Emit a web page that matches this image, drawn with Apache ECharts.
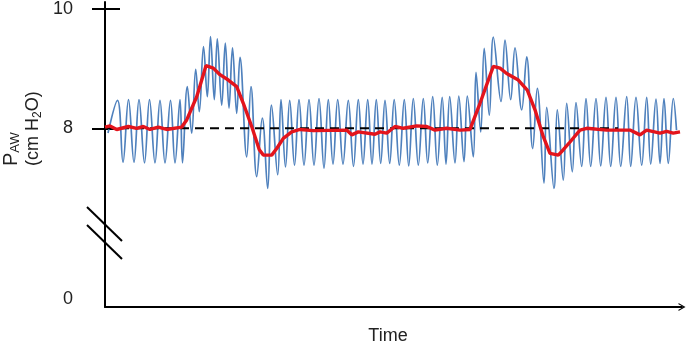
<!DOCTYPE html>
<html>
<head>
<meta charset="utf-8">
<script src="https://cdn.jsdelivr.net/npm/echarts@6/dist/echarts.min.js"></script>
<style>
  html, body { margin: 0; padding: 0; background: #fff; }
  #chart { width: 686px; height: 344px; }
</style>
</head>
<body>
<div id="chart"></div>
<script>
// blue trace: turning points (time, cm H2O)
var bluePeakT = [12.5, 23.5, 34, 44.5, 55, 65.5, 75, 82.3, 90.7, 98.5, 105.5, 112.3, 120.3, 127.5, 135, 146, 157.3, 166.5, 176, 184.7,
  194, 204, 214, 223.3, 232.7, 243.3, 253.3, 262.7, 271.3, 280, 289.2, 299.3, 308.3, 318.3, 327.7, 337.2, 344.7, 353.8, 362.3, 371,
  379.2, 388.3, 400, 410, 421.7, 432.3, 441.7, 452.3, 461.7, 471, 481, 491, 501, 511, 521.7, 531, 541.7, 551, 559, 568.3];
var bluePeakV = [8.47, 8.48, 8.48, 8.48, 8.47, 8.47, 8.48, 8.70, 8.99, 9.37, 9.54, 9.50, 9.43, 9.35, 9.19, 8.70, 8.17, 8.39, 8.48, 8.47,
  8.48, 8.48, 8.50, 8.48, 8.48, 8.47, 8.48, 8.48, 8.48, 8.47, 8.48, 8.48, 8.50, 8.50, 8.53, 8.52, 8.53, 8.54, 8.54, 8.94,
  9.34, 9.53, 9.48, 9.35, 9.20, 8.67, 8.35, 8.31, 8.42, 8.43, 8.50, 8.50, 8.52, 8.52, 8.53, 8.52, 8.52, 8.49, 8.50, 8.50];
var blueTroughT = [18, 29, 39.5, 50, 60, 70, 77.5, 86.7, 94.3, 102.3, 109.3, 116.7, 124, 131.7, 141.7, 151.7, 162.7, 172.7, 180.5, 189.5,
  199, 209, 219, 228, 238, 248.5, 258, 267, 275.7, 284.7, 294.3, 303.7, 313.3, 322.7, 332.3, 341, 350, 359, 368.3, 375.7,
  384.3, 396, 405.7, 416.7, 427.7, 439, 449, 458.3, 467.3, 476.7, 485.7, 495.7, 505.7, 515.7, 525.7, 536.7, 545.7, 555, 563.3];
var blueTroughV = [7.43, 7.43, 7.42, 7.42, 7.42, 7.42, 7.42, 7.92, 8.28, 8.53, 8.48, 8.39, 8.34, 8.25, 7.52, 7.19, 6.99, 7.22, 7.35, 7.38,
  7.38, 7.38, 7.33, 7.40, 7.40, 7.36, 7.40, 7.40, 7.41, 7.41, 7.38, 7.37, 7.38, 7.42, 7.38, 7.40, 7.42, 7.44, 7.52, 7.94,
  8.22, 8.45, 8.48, 8.31, 7.66, 7.08, 6.99, 7.13, 7.27, 7.36, 7.36, 7.37, 7.36, 7.36, 7.36, 7.38, 7.40, 7.41, 7.41];
var blueStart = [3, 7.92];
var blueEnd = [571.5, 7.97];

// red trace: averaged pressure
var redT = [0, 5, 11.7, 23.3, 31.7, 38.3, 45, 53.3, 61.7, 76.7, 81.7, 91.7, 101, 108.3, 115, 123.3, 131.7, 138.3, 146.7, 154.3,
  158.3, 166.7, 171.7, 178.3, 186.7, 195, 208.3, 241.7, 246.7, 253.3, 270, 275, 281.7, 290, 298.3, 311.7, 321.7, 330, 341.7, 355,
  365, 375, 388.3, 395, 401.7, 413.3, 422.3, 430, 438.3, 445, 453.3, 458.3, 465, 475, 481.7, 501.7, 525, 535, 541.7, 555,
  561.7, 568.3, 575];
var redV = [8.02, 8.04, 7.98, 8.03, 8.00, 8.03, 7.98, 8.02, 7.98, 8.02, 8.14, 8.53, 9.05, 9.01, 8.90, 8.81, 8.70, 8.42, 8.03, 7.64,
  7.55, 7.55, 7.66, 7.83, 7.94, 7.98, 7.96, 7.97, 7.89, 7.94, 7.90, 7.94, 7.92, 8.03, 8.00, 8.04, 8.03, 7.97, 8.00, 7.97,
  7.98, 8.42, 9.04, 9.01, 8.92, 8.81, 8.64, 8.31, 7.86, 7.58, 7.55, 7.64, 7.77, 7.97, 8.00, 7.97, 7.97, 7.89, 7.97, 7.92,
  7.95, 7.92, 7.94];

// dashed reference at 8 cm H2O
var baseT = [0, 513];
var baseV = [8, 8];

var yTicks = [8, 10];
var yLabelPos = [5.13, 8, 10];

var blueData = [blueStart];
for (var i = 0; i < bluePeakT.length; i++) {
  blueData.push([bluePeakT[i], bluePeakV[i]]);
  if (i < blueTroughT.length) blueData.push([blueTroughT[i], blueTroughV[i]]);
}
blueData.push(blueEnd);

var redData = redT.map(function (t, i) { return [t, redV[i]]; });
var baseData = baseT.map(function (t, i) { return [t, baseV[i]]; });

var font = 'Liberation Sans, Arial, sans-serif';
var chart = echarts.init(document.getElementById('chart'));

var option = {
  animation: false,
  backgroundColor: '#fff',
  grid: { left: 105, right: 4, top: 2, bottom: 37, containLabel: false, outerBoundsMode: 'none' },
  xAxis: {
    type: 'value', min: 0, max: 577,
    axisLine: {
      show: true,
      symbol: ['none', 'path://M0,9 L5,0 L10,9 L8.4,9 L5,2.6 L1.6,9 Z'],
      symbolSize: [10, 7],
      lineStyle: { color: '#000', width: 2 }
    },
    axisTick: { show: false },
    axisLabel: { show: false },
    splitLine: { show: false },
    name: 'Time',
    nameLocation: 'middle',
    nameGap: 20,
    nameTextStyle: { fontSize: 18, color: '#222', fontFamily: font, padding: [0, 11, 0, 0] }
  },
  yAxis: [{
    type: 'value', min: 5, max: 10.12, position: 'left',
    axisLine: { show: true, lineStyle: { color: '#000', width: 2 } },
    axisTick: { show: true, customValues: yTicks, length: 13, lineStyle: { color: '#000', width: 2 } },
    axisLabel: {
      customValues: yLabelPos,
      margin: 32,
      fontSize: 18,
      color: '#222',
      fontFamily: font,
      formatter: function (v) { return v < 6 ? '0' : String(v); }
    },
    splitLine: { show: false }
  }, {
    type: 'value', min: 5, max: 10.12, position: 'left',
    axisLine: { show: false },
    axisTick: { show: true, inside: true, customValues: yTicks, length: 15, lineStyle: { color: '#000', width: 2 } },
    axisLabel: { show: false },
    splitLine: { show: false }
  }],
  graphic: [
    // axis break marks
    { type: 'line', shape: { x1: 87, y1: 207, x2: 122, y2: 241 }, style: { stroke: '#000', lineWidth: 2 }, z: 10 },
    { type: 'line', shape: { x1: 87, y1: 225, x2: 122, y2: 259 }, style: { stroke: '#000', lineWidth: 2 }, z: 10 },
    {
      type: 'text', x: 0, y: 166, rotation: Math.PI / 2,
      style: {
        text: '{p|P}{s|AW}\n{n|(cm H}{s2|2}{n|O)}',
        fill: '#222',
        align: 'left',
        verticalAlign: 'top',
        rich: {
          p: { fontSize: 20, lineHeight: 22, fontFamily: font, fill: '#222' },
          s: { fontSize: 13, lineHeight: 8, verticalAlign: 'bottom', fontFamily: font, fill: '#222' },
          n: { fontSize: 18, lineHeight: 22, fontFamily: font, fill: '#222' },
          s2: { fontSize: 12, lineHeight: 8, verticalAlign: 'bottom', fontFamily: font, fill: '#222' }
        }
      }
    }
  ],
  series: [{
    name: 'raw', type: 'line', data: blueData, smooth: 0.4, showSymbol: false,
    lineStyle: { color: '#4f81bd', width: 1.7 }, z: 2
  }, {
    name: 'baseline', type: 'line', data: baseData, showSymbol: false,
    lineStyle: { color: '#000', width: 2, type: [9, 6] }, z: 3
  }, {
    name: 'mean', type: 'line', data: redData, showSymbol: false,
    lineStyle: { color: '#e3141c', width: 3.4 }, z: 4
  }]
};

chart.setOption(option);
</script>
</body>
</html>
